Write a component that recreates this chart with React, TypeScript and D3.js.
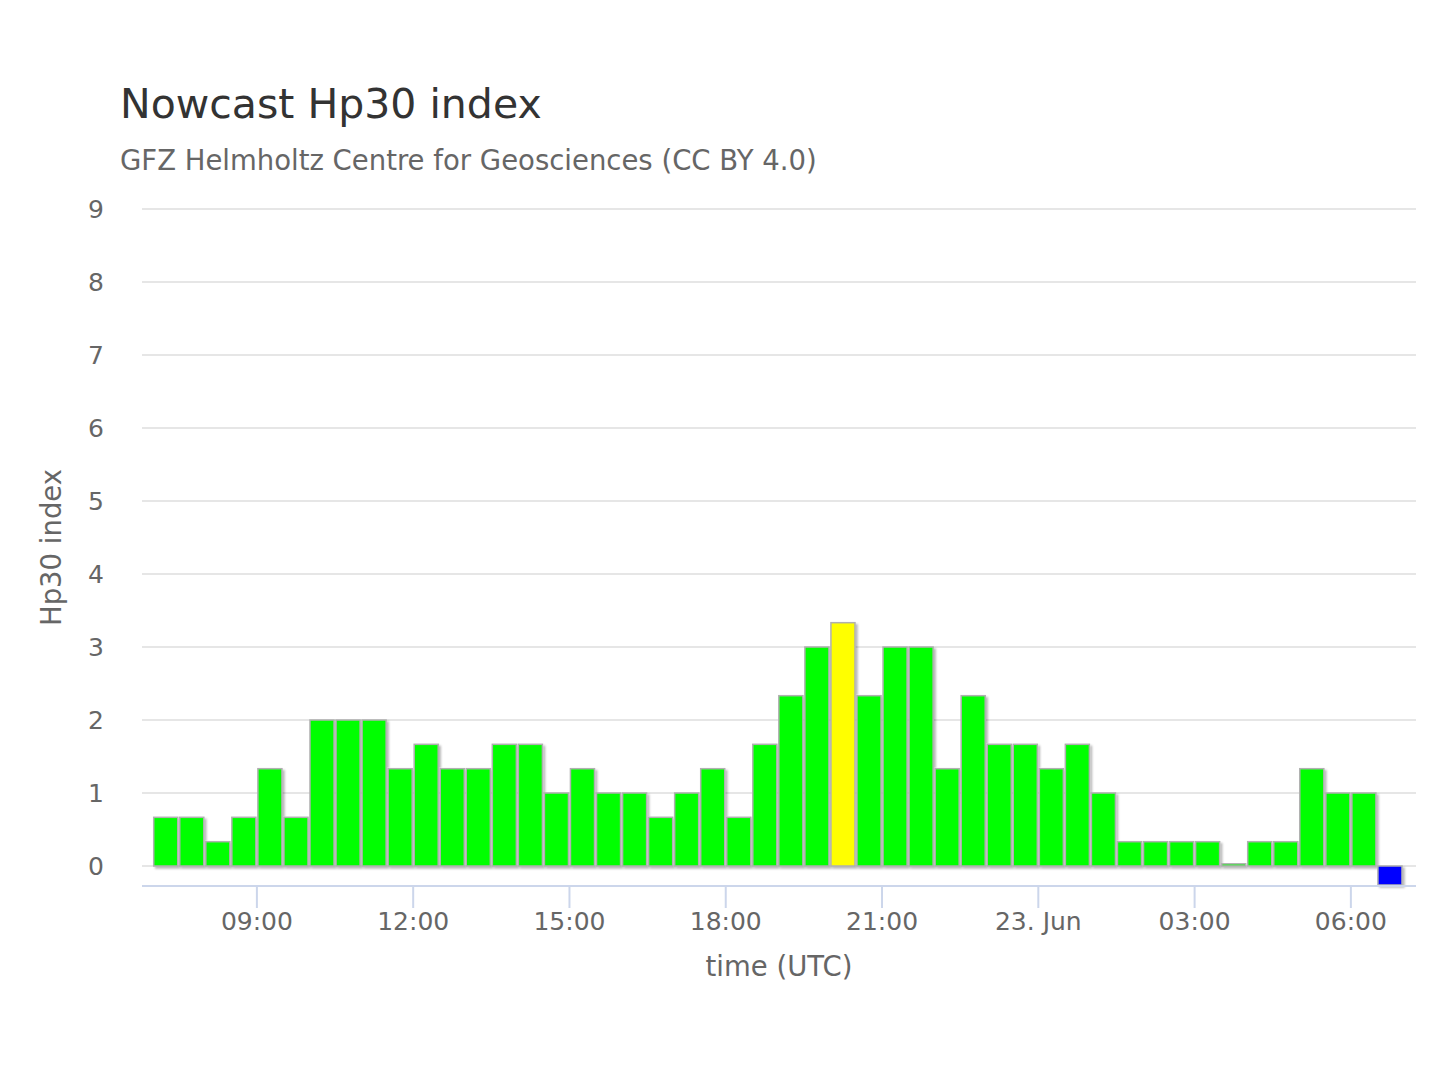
import React from "react";
import * as d3 from "d3";

// half-hourly Hp30 values starting 22 Jun 07:00 UTC
const startTime = Date.UTC(2024, 5, 22, 7, 0);
const hp30Values = [
  0.667, 0.667, 0.333, 0.667, 1.333, 0.667, 2, 2, 2, 1.333, 1.667, 1.333,
  1.333, 1.667, 1.667, 1, 1.333, 1, 1, 0.667, 1, 1.333, 0.667, 1.667, 2.333,
  3, 3.333, 2.333, 3, 3, 1.333, 2.333, 1.667, 1.667, 1.333, 1.667, 1, 0.333,
  0.333, 0.333, 0.333, 0.03, 0.333, 0.333, 1.333, 1, 1, -0.26,
];
const yTicks = [0, 1, 2, 3, 4, 5, 6, 7, 8, 9];
const xTickHours = [9, 12, 15, 18, 21, 24, 27, 30];

const width = 1440;
const height = 1080;
const plot = { left: 142, right: 1416, top: 209, bottom: 886 };

const barColor = (v: number) =>
  v < 0 ? "#0000ff" : v >= 3.3 ? "#ffff00" : "#00ff00";

const fontFamily = "'DejaVu Sans', Verdana, sans-serif";

export default function App() {
  const halfHour = 30 * 60 * 1000;
  const xScale = d3
    .scaleUtc()
    .domain([
      new Date(Date.UTC(2024, 5, 22, 6, 47, 40)),
      new Date(Date.UTC(2024, 5, 23, 7, 15)),
    ])
    .range([plot.left, plot.right]);

  const yScale = d3
    .scaleLinear()
    .domain([-0.274, 9])
    .range([plot.bottom, plot.top]);

  const bars = hp30Values.map((v, i) => ({
    t0: new Date(startTime + i * halfHour),
    t1: new Date(startTime + (i + 1) * halfHour),
    v,
  }));

  const tickTimes = xTickHours.map(
    (h) => new Date(Date.UTC(2024, 5, 22, h, 0)),
  );
  const tickLabel = (d: Date) =>
    d.getUTCHours() === 0
      ? `${d.getUTCDate()}. ${d3.utcFormat("%b")(d)}`
      : d3.utcFormat("%H:%M")(d);

  return (
    <svg
      width={width}
      height={height}
      viewBox={`0 0 ${width} ${height}`}
      style={{ display: "block", margin: -8, fontFamily }}
    >
      <defs>
        <filter id="barShadow" x="-20%" y="-20%" width="150%" height="150%">
          <feDropShadow
            dx="2"
            dy="2"
            stdDeviation="1.2"
            floodColor="#000"
            floodOpacity="0.28"
          />
        </filter>
      </defs>
      <rect width={width} height={height} fill="#ffffff" />

      <text x={120} y={118} fontSize={41} fill="#333333">
        Nowcast Hp30 index
      </text>
      <text x={120} y={170} fontSize={27.5} fill="#666666">
        GFZ Helmholtz Centre for Geosciences (CC BY 4.0)
      </text>

      {/* gridlines */}
      {yTicks.map((t) => (
        <line
          key={t}
          x1={plot.left}
          x2={plot.right}
          y1={yScale(t)}
          y2={yScale(t)}
          stroke="#e6e6e6"
          strokeWidth={2}
        />
      ))}

      {/* y labels */}
      {yTicks.map((t) => (
        <text
          key={t}
          x={104}
          y={yScale(t) + 9}
          textAnchor="end"
          fontSize={25}
          fill="#666666"
        >
          {t}
        </text>
      ))}

      <text
        transform={`translate(61,${(plot.top + plot.bottom) / 2}) rotate(-90)`}
        textAnchor="middle"
        fontSize={27.5}
        fill="#666666"
      >
        Hp30 index
      </text>

      {/* bars */}
      <g filter="url(#barShadow)">
        {bars.map((b, i) => {
          const x0 = xScale(b.t0) + 1;
          const x1 = xScale(b.t1) - 1;
          const y0 = yScale(Math.max(0, b.v));
          const y1 = yScale(Math.min(0, b.v));
          return (
            <rect
              key={i}
              x={x0}
              y={y0}
              width={x1 - x0}
              height={Math.max(1, y1 - y0)}
              fill={barColor(b.v)}
              stroke="#b0b0b0"
              strokeWidth={1.5}
            />
          );
        })}
      </g>

      {/* x axis */}
      <line
        x1={plot.left}
        x2={plot.right}
        y1={plot.bottom}
        y2={plot.bottom}
        stroke="#ccd6eb"
        strokeWidth={2}
      />
      {tickTimes.map((d, i) => (
        <g key={i} transform={`translate(${xScale(d)},0)`}>
          <line
            y1={plot.bottom}
            y2={plot.bottom + 22}
            stroke="#ccd6eb"
            strokeWidth={2}
          />
          <text y={930} textAnchor="middle" fontSize={25} fill="#666666">
            {tickLabel(d)}
          </text>
        </g>
      ))}
      <text
        x={(plot.left + plot.right) / 2}
        y={976}
        textAnchor="middle"
        fontSize={27.5}
        fill="#666666"
      >
        time (UTC)
      </text>
    </svg>
  );
}
